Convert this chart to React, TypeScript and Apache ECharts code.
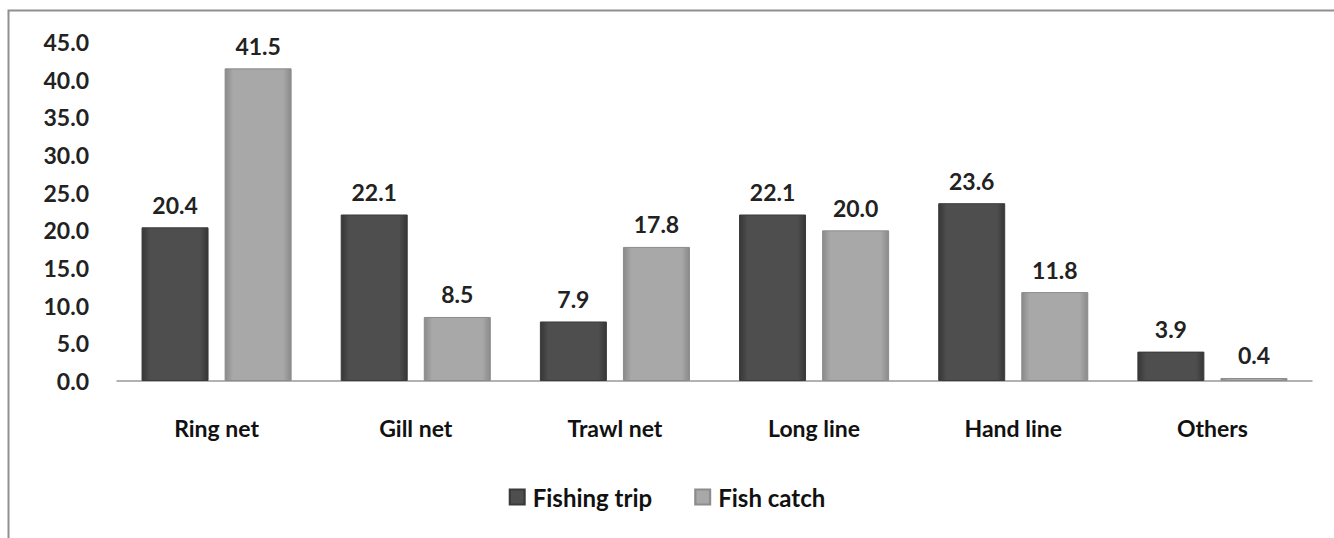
import React, { useEffect, useRef } from "react";
import * as echarts from "echarts";

const categories = ["Ring net", "Gill net", "Trawl net", "Long line", "Hand line", "Others"];
const fishingTrip = [20.4, 22.1, 7.9, 22.1, 23.6, 3.9];
const fishCatch = [41.5, 8.5, 17.8, 20.0, 11.8, 0.4];
const seriesNames = ["Fishing trip", "Fish catch"];

const FONT = "Lato, 'Open Sans', sans-serif";

const grad = (edge: string, mid: string) =>
  new echarts.graphic.LinearGradient(0, 0, 1, 0, [
    { offset: 0, color: edge },
    { offset: 0.12, color: mid },
    { offset: 0.88, color: mid },
    { offset: 1, color: edge },
  ]);

export default function App() {
  const ref = useRef<HTMLDivElement>(null);
  useEffect(() => {
    document.body.style.margin = "0";
    const chart = echarts.init(ref.current!, null, { renderer: "svg" });
    const label = {
      show: true,
      position: "top" as const,
      distance: 11,
      fontFamily: FONT,
      fontSize: 23,
      fontWeight: "bold" as const,
      color: "#222",
      formatter: (p: any) => Number(p.value).toFixed(1),
    };
    chart.setOption({
      animation: false,
      backgroundColor: "#fff",
      graphic: [
        {
          type: "rect",
          shape: { x: 8.5, y: 10.5, width: 1400, height: 600 },
          style: { fill: "none", stroke: "#8f8f8f", lineWidth: 2 },
          silent: true,
        },
      ],
      grid: { left: 117, right: 22, top: 42, bottom: 157 },
      legend: {
        bottom: 24,
        left: "center",
        itemWidth: 15,
        itemHeight: 15,
        itemGap: 42,
        icon: "rect",
        textStyle: { fontFamily: FONT, fontSize: 24, fontWeight: "bold", color: "#111", padding: [0, 0, 0, 3] },
        data: seriesNames,
      },
      xAxis: {
        type: "category",
        data: categories,
        axisLine: { lineStyle: { color: "#999", width: 1.5 } },
        axisTick: { show: false },
        axisLabel: { margin: 35, fontFamily: FONT, fontSize: 23, fontWeight: "bold", color: "#111" },
      },
      yAxis: {
        type: "value",
        min: 0,
        max: 45,
        interval: 5,
        splitLine: { show: false },
        axisLine: { show: false },
        axisTick: { show: false },
        axisLabel: {
          margin: 28,
          fontFamily: FONT,
          fontSize: 23,
          fontWeight: "bold",
          color: "#222",
          formatter: (v: number) => v.toFixed(1),
        },
      },
      series: [
        {
          name: seriesNames[0],
          type: "bar",
          data: fishingTrip,
          barWidth: 67,
          barGap: "24%",
          itemStyle: { color: grad("#363636", "#4e4e4e"), borderColor: "#3a3a3a", borderWidth: 1 },
          label,
        },
        {
          name: seriesNames[1],
          type: "bar",
          data: fishCatch,
          barWidth: 67,
          itemStyle: { color: grad("#8a8a8a", "#a8a8a8"), borderColor: "#8c8c8c", borderWidth: 1 },
          label,
        },
      ],
    });
    return () => chart.dispose();
  }, []);
  return <div ref={ref} style={{ width: 1334, height: 538 }} />;
}
